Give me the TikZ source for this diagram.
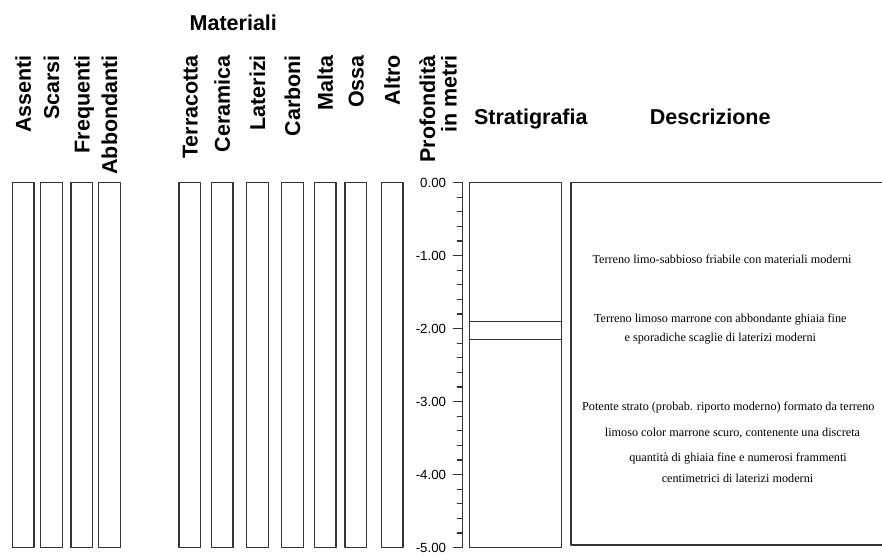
\documentclass[tikz,border=0pt]{standalone}
\usepackage{fontspec}
\setmainfont{Liberation Serif}
\setsansfont{Liberation Sans}
\begin{document}
\begin{tikzpicture}[x=1pt,y=-1pt, line join=round, line cap=round]
            \tikzset{col/.style={draw=black!80, line width=1.2pt},
              intest/.style={font=\sffamily\bfseries\fontsize{21.5}{22}\selectfont, rotate=90, anchor=base east, inner sep=0pt},
              titolo/.style={font=\sffamily\bfseries\fontsize{21.5}{22}\selectfont, anchor=base, inner sep=0pt},
              quota/.style={font=\sffamily\fontsize{13.3}{13}\selectfont, anchor=east, inner sep=0pt},
              descr/.style={font=\rmfamily\fontsize{12.2}{14}\selectfont, anchor=base, inner sep=0pt}}
            \useasboundingbox (0,0) rectangle (882,555);
            \def\ytop{182.5} \def\ybot{547.5} \def\ym{73} % 1 metro
            \def\xax{462.3} % asse profondita
            % frequenze
            \foreach \xa/\nome/\id in {12.3/Assenti/ass, 40.7/Scarsi/sca, 71/Frequenti/fre, 98.7/Abbondanti/abb}{
              \draw[col] (\xa,\ytop) rectangle (\xa+21.7,\ybot);
              \node[intest] (\id) at (\xa+18.5,55) {\nome};
            }
            % materiali
            \node[titolo] (mat) at (233.3,30.5) {Materiali};
            \foreach \xa/\nome/\id in {179/Terracotta/ter, 211.3/Ceramica/cer, 246.7/Laterizi/lat, 281.7/Carboni/car, 314.3/Malta/mal, 345/Ossa/oss, 381.3/Altro/alt}{
              \draw[col] (\xa,\ytop) rectangle (\xa+21.7,\ybot);
              \node[intest] (\id) at (\xa+18.5,55) {\nome};
            }
            \node[intest] (prof) at (435,55) {Profondità};
            \node[intest] (metri) at (456.7,55) {in metri};
            % scala
            \draw[col] (\xax,\ytop)--(\xax,\ybot);
            \foreach \i in {1,2,3,4,6,7,8,9,11,12,13,14,16,17,18,19,21,22,23,24}
            \draw[col] (\xax,\ytop+\i*\ym/5)--(\xax-5,\ytop+\i*\ym/5);
            \foreach \i/\t in {0/0.00,1/-1.00,2/-2.00,3/-3.00,4/-4.00,5/-5.00}
            \draw[col] (\xax,\ytop+\i*\ym)--(\xax-9,\ytop+\i*\ym) node[quota, xshift=-6.6pt] (q\i) {\t};
            % stratigrafia
            \node[titolo] (strat) at (530.8,124) {Stratigrafia};
            \draw[col] (469.3,\ytop) rectangle (561.7,\ybot);
            \draw[col] (469.3,\ytop+1.9*\ym)--(561.7,\ytop+1.9*\ym);
            \draw[col] (469.3,\ytop+2.15*\ym)--(561.7,\ytop+2.15*\ym);
            % descrizione
            \node[titolo] (descr) at (710.2,124) {Descrizione};
            \draw[col] (885,\ytop)--(571,\ytop)--(571,545)--(885,545);
            \node[descr] (d1) at (722,263) {Terreno limo-sabbioso friabile con materiali moderni};
            \node[descr] (d2) at (720.3,322.5) {Terreno limoso marrone con abbondante ghiaia fine};
            \node[descr] (d3) at (720.3,341.5) {e sporadiche scaglie di laterizi moderni};
            \node[descr] (d4) at (728.3,410) {Potente strato (probab. riporto moderno) formato da terreno};
            \node[descr] (d5) at (732.5,436) {limoso color marrone scuro, contenente una discreta};
            \node[descr] (d6) at (738,461.5) {quantità di ghiaia fine e numerosi frammenti};
            \node[descr] (d7) at (737.5,482.5) {centimetrici di laterizi moderni};
        \end{tikzpicture}
\end{document}
